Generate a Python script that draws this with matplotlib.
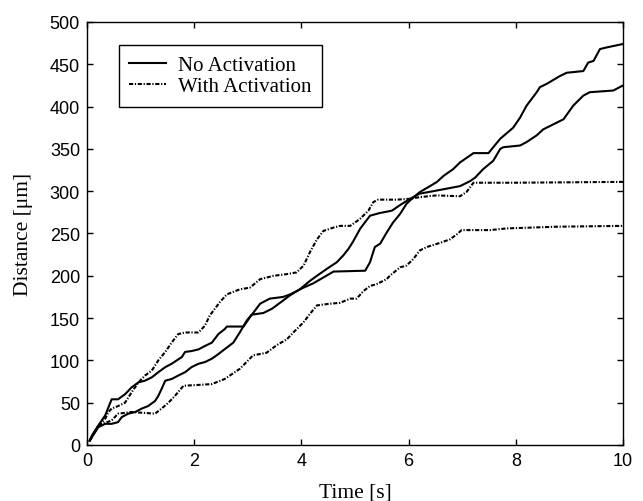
import matplotlib
matplotlib.use('Agg')
import matplotlib.pyplot as plt
import numpy as np

# Cell tracks: distance travelled over time, two cells per condition
t_no1 = [0.05, 0.09, 0.21, 0.34, 0.46, 0.58, 0.71, 0.83, 0.96, 1.08, 1.21, 1.33, 1.46, 1.58,
         1.77, 1.83, 1.95, 2.08, 2.20, 2.33, 2.45, 2.57, 2.61, 2.92, 3.04, 3.23, 3.41, 3.66,
         3.79, 4.04, 4.22, 4.41, 4.60, 5.19, 5.28, 5.37, 5.47, 5.59, 5.71, 5.84, 5.96, 6.06,
         6.21, 6.40, 6.53, 6.65, 6.83, 6.96, 7.21, 7.49, 7.58, 7.71, 7.95, 8.08, 8.20, 8.39,
         8.45, 8.58, 8.82, 8.95, 9.26, 9.35, 9.45, 9.57, 9.70, 10.0]
d_no1 = [5, 11, 23, 35, 54, 54, 60, 68, 74, 76, 80, 86, 92, 96,
         104, 110, 111, 113, 117, 121, 131, 137, 140, 140, 151, 167, 173, 175,
         178, 186, 191, 198, 205, 206, 216, 234, 238, 251, 263, 273, 285, 291,
         299, 306, 311, 318, 326, 334, 345, 345, 352, 362, 375, 387, 401, 417,
         423, 427, 436, 440, 442, 452, 454, 468, 470, 474]

t_no2 = [0.05, 0.21, 0.34, 0.46, 0.58, 0.65, 0.77, 0.90, 1.02, 1.14, 1.27, 1.33, 1.39, 1.46,
         1.58, 1.70, 1.83, 1.95, 2.08, 2.20, 2.33, 2.42, 2.73, 2.85, 2.98, 3.07, 3.29, 3.45,
         3.60, 3.79, 3.97, 4.16, 4.29, 4.47, 4.66, 4.78, 4.88, 4.96, 5.10, 5.28, 5.45, 5.69,
         5.85, 6.03, 6.20, 6.46, 6.96, 7.15, 7.24, 7.39, 7.58, 7.71, 7.77, 8.08, 8.20, 8.39,
         8.51, 8.70, 8.89, 9.07, 9.26, 9.38, 9.82, 10.0]
d_no2 = [5, 21, 25, 25, 27, 33, 37, 39, 43, 46, 52, 58, 66, 76,
         78, 82, 86, 92, 96, 98, 102, 106, 121, 133, 147, 154, 156, 161,
         168, 177, 184, 194, 200, 208, 216, 224, 232, 240, 256, 271, 274, 277,
         284, 291, 297, 300, 306, 312, 316, 326, 336, 350, 352, 354, 358, 366,
         373, 379, 385, 401, 413, 417, 419, 425]

t_act1 = [0.05, 0.21, 0.34, 0.40, 0.46, 0.58, 0.71, 0.83, 0.96, 1.08, 1.21, 1.33, 1.46, 1.58,
          1.70, 1.83, 2.08, 2.20, 2.29, 2.48, 2.61, 2.85, 3.04, 3.23, 3.48, 3.73, 3.91, 4.04,
          4.16, 4.29, 4.41, 4.60, 4.72, 4.91, 5.09, 5.25, 5.34, 5.43, 5.78, 6.03, 6.21, 6.52,
          6.96, 7.08, 7.21, 8.00, 9.00, 10.0]
d_act1 = [5, 22, 31, 39, 43, 46, 50, 62, 74, 82, 88, 100, 110, 121,
          131, 133, 133, 141, 153, 169, 178, 184, 186, 196, 200, 202, 204, 212,
          228, 243, 253, 257, 259, 259, 267, 277, 287, 290, 290, 291, 293, 295,
          294, 299, 310, 310, 310.5, 311]

t_act2 = [0.05, 0.21, 0.46, 0.58, 0.83, 1.27, 1.39, 1.52, 1.64, 1.80, 2.08, 2.33, 2.57, 2.85,
          3.10, 3.35, 3.54, 3.73, 3.85, 4.04, 4.16, 4.29, 4.53, 4.72, 4.91, 5.03, 5.16, 5.28,
          5.40, 5.59, 5.65, 5.84, 5.96, 6.09, 6.21, 6.34, 6.59, 6.77, 6.90, 6.99, 7.52, 7.83,
          8.76, 10.0]
d_act2 = [5, 23, 29, 37, 39, 37, 43, 50, 58, 70, 71, 72, 78, 90,
          106, 109, 118, 125, 133, 145, 155, 165, 167, 168, 173, 173, 182, 188,
          190, 196, 200, 210, 212, 220, 230, 234, 239, 243, 249, 254, 254, 256,
          258, 259]

serif = 'Liberation Serif'
sans = 'Liberation Sans'
dashdot = (0, (2.0, 0.8, 0.6, 0.8))

fig = plt.figure(figsize=(6.43, 5.02), dpi=100)
ax = fig.add_axes([0.1353, 0.1116, 0.8336, 0.8426])

ax.plot(t_no1, d_no1, color='k', lw=1.5, label='No Activation')
ax.plot(t_act1, d_act1, color='k', lw=1.5, linestyle=dashdot, label='With Activation')
ax.plot(t_no2, d_no2, color='k', lw=1.5)
ax.plot(t_act2, d_act2, color='k', lw=1.5, linestyle=dashdot)

ax.set_xlim(0, 10)
ax.set_ylim(0, 500)
ax.set_xticks(np.arange(0, 11, 2))
ax.set_yticks(np.arange(0, 501, 50))
ax.tick_params(direction='in', length=4.5, width=1, top=True, right=True, pad=5,
               labelsize=13)
for lab in ax.get_xticklabels() + ax.get_yticklabels():
    lab.set_family(sans)
for sp in ax.spines.values():
    sp.set_linewidth(1)

ax.set_xlabel('Time [s]', family=serif, fontsize=15.5, labelpad=10)
ax.set_ylabel('Distance [\u03bcm]', family=serif, fontsize=15.5, labelpad=12)

leg = ax.legend(loc='upper left', bbox_to_anchor=(0.0597, 0.9456), borderaxespad=0,
                fancybox=False, edgecolor='k', framealpha=1,
                prop={'family': serif, 'size': 15},
                handlelength=1.75, handletextpad=0.6, labelspacing=0.08,
                borderpad=0.5)
leg.get_frame().set_linewidth(1)

fig.savefig('out.png', dpi=100)
